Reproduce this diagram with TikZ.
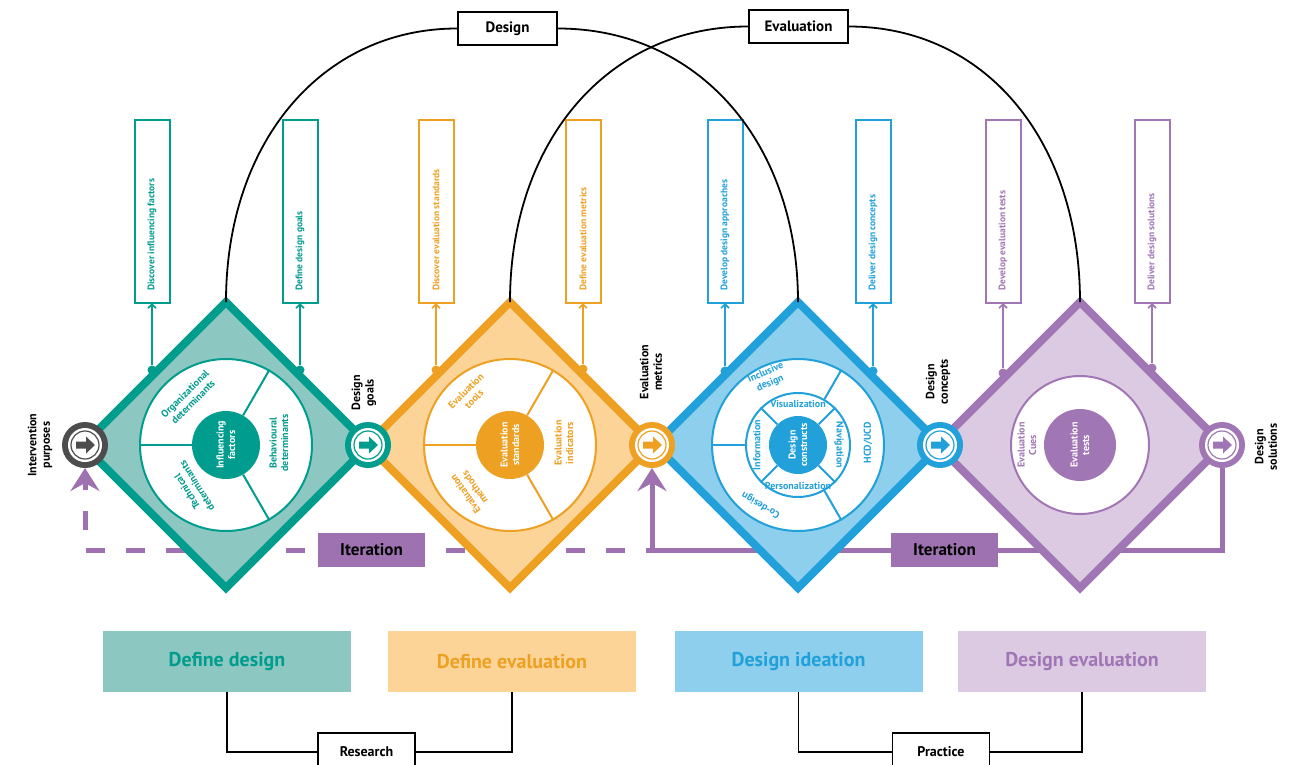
\documentclass[tikz,border=0pt]{standalone}
\usepackage{fontspec}
\setmainfont{PT Sans}
\usetikzlibrary{arrows.meta,calc,shapes.geometric,backgrounds}

\definecolor{tealS}{HTML}{009C8D}
\definecolor{tealL}{HTML}{8CC8C1}
\definecolor{oraS}{HTML}{EEA022}
\definecolor{oraL}{HTML}{FCD497}
\definecolor{bluS}{HTML}{21A0DA}
\definecolor{bluL}{HTML}{8DCFEC}
\definecolor{purS}{HTML}{A176B4}
\definecolor{purL}{HTML}{DCCAE3}
\definecolor{iterC}{HTML}{9E72B1}
\definecolor{portG}{HTML}{4D4D4D}

\tikzset{
  phase/.style 2 args={diamond, draw=#1, fill=#2, line width=8pt,
    minimum width=286pt, minimum height=286pt, inner sep=0pt, outer sep=0pt},
  port/.style={circle, fill=#1, minimum size=46pt, inner sep=0pt, outer sep=0pt,
    path picture={
      \fill[white] (path picture bounding box.center) circle (17pt);
      \draw[#1, line width=1.2pt] (path picture bounding box.center) circle (14pt);
      \fill[#1] ($(path picture bounding box.center)+(-9pt,-3.5pt)$)
        -- ++(10pt,0pt) -- ++(0pt,-5pt) -- ++(9pt,8.5pt) -- ++(-9pt,8.5pt)
        -- ++(0pt,-5pt) -- ++(-10pt,0pt) -- cycle;}},
  stepbox/.style={draw=#1, line width=2pt, fill=white, minimum width=35pt,
    minimum height=183pt, inner sep=0pt, outer sep=0pt},
  boxtxt/.style={text=#1, font=\bfseries\fontsize{9.5}{10}\selectfont,
    rotate=90, anchor=west, inner sep=0pt},
  edgedot/.style={circle, fill=#1, minimum size=9pt, inner sep=0pt},
  link/.style={draw=#1, line width=1.6pt,
    -{Straight Barb[length=4pt,width=8pt,line width=1.6pt]}},
  ring/.style={circle, draw=#1, fill=white, line width=2pt, inner sep=0pt},
  hub/.style={circle, fill=#1, inner sep=0pt},
  sep/.style={draw=#1, line width=2pt},
  intxt/.style={text=#1, font=\bfseries\fontsize{10}{11.5}\selectfont,
    align=center, inner sep=0pt},
  plab/.style={font=\bfseries\fontsize{12}{13.5}\selectfont, align=center,
    rotate=90, inner sep=0pt},
  topbox/.style={draw=black, line width=1.8pt, fill=white, minimum width=99pt,
    minimum height=33pt, inner sep=0pt, font=\bfseries\fontsize{15}{17}\selectfont},
  arcline/.style={draw=black, line width=1.8pt},
  iterline/.style={draw=iterC, line width=5pt,
    -{Stealth[length=23pt,width=29pt,inset=8pt]}},
  iterbox/.style={fill=iterC, minimum width=107pt, minimum height=34pt,
    inner sep=0pt, font=\bfseries\fontsize{17}{19}\selectfont},
  stagebox/.style 2 args={fill=#2, text=#1, minimum width=248pt,
    minimum height=61pt, inner sep=0pt, font=\bfseries\fontsize{20}{22}\selectfont},
  groupbox/.style={draw=black, line width=1.8pt, fill=white, minimum width=97pt,
    minimum height=38pt, inner sep=0pt, font=\bfseries\fontsize{14}{16}\selectfont},
  groupline/.style={draw=black, line width=1.8pt}
}

\begin{document}
\begin{tikzpicture}[x=1pt, y=-1pt]
\useasboundingbox (0,0) rectangle (1294,764);
\clip (0,0) rectangle (1294,764);

% ---- the four phase diamonds
\node[phase={tealS}{tealL}] (dT) at (226,445) {};
\node[phase={oraS}{oraL}]   (dO) at (510,445) {};
\node[phase={bluS}{bluL}]   (dB) at (798,445) {};
\node[phase={purS}{purL}]   (dP) at (1080,445) {};

% ---- teal: influencing factors
\node[ring=tealS, minimum size=172pt] (tO) at (dT) {};
\node[hub=tealS, minimum size=68pt] (tC) at (dT) {};
\foreach \a in {60,180,300} \draw[sep=tealS] (tC.\a) -- (tO.\a);
\node[intxt=white, rotate=90] (tCt) at (dT) {Influencing\\factors};
\node[intxt=tealS, rotate=45] (tA) at ($(dT)+(-37,-47)$) {Organizational\\determinants};
\node[intxt=tealS, rotate=90] (tB) at ($(dT)+(53,-2)$) {Behavioural\\determinants};
\node[intxt=tealS, rotate=122] (tD) at ($(dT)+(-34,44)$) {Technical\\determinants};

% ---- orange: evaluation standards
\node[ring=oraS, minimum size=172pt] (oO) at (dO) {};
\node[hub=oraS, minimum size=68pt] (oC) at (dO) {};
\foreach \a in {60,180,300} \draw[sep=oraS] (oC.\a) -- (oO.\a);
\node[intxt=white, rotate=90] (oCt) at (dO) {Evaluation\\standards};
\node[intxt=oraS, rotate=45] (oA) at ($(dO)+(-40,-50)$) {Evaluation\\tools};
\node[intxt=oraS, rotate=90] (oB) at ($(dO)+(54,-2)$) {Evaluation\\indicators};
\node[intxt=oraS, rotate=125] (oD) at ($(dO)+(-40,46)$) {Evaluation\\methods};

% ---- blue: design constructs
\node[ring=bluS, minimum size=172pt] (bO) at (dB) {};
\node[ring=bluS, minimum size=104pt] (bR) at (dB) {};
\node[hub=bluS, minimum size=58pt] (bC) at (dB) {};
\foreach \a in {60,180,300} \draw[sep=bluS] (bR.\a) -- (bO.\a);
\foreach \a in {45,135,225,315} \draw[sep=bluS] (bC.\a) -- (bR.\a);
\node[intxt=white, rotate=90] (bCt) at (dB) {Design\\constructs};
\node[intxt=bluS] (bV) at ($(dB)+(0,-41)$) {Visualization};
\node[intxt=bluS] (bP) at ($(dB)+(0,41)$) {Personalization};
\node[intxt=bluS, rotate=90] (bI) at ($(dB)+(-41,0)$) {Information};
\node[intxt=bluS, rotate=-90] (bN) at ($(dB)+(41,0)$) {Navigation};
\node[intxt=bluS, rotate=23] (bX) at ($(dB)+(-30,-67)$) {Inclusive\\design};
\node[intxt=bluS, rotate=90] (bH) at ($(dB)+(70,-2)$) {HCD/UCD};
\node[intxt=bluS, rotate=150] (bK) at ($(dB)+(-37,60)$) {Co-design};

% ---- purple: evaluation tests
\node[ring=purS, minimum size=138pt] (uO) at (dP) {};
\node[hub=purS, minimum size=72pt] (uC) at (dP) {};
\node[intxt=white, rotate=90] (uCt) at (dP) {Evaluation\\tests};
\node[intxt=purS, rotate=90] (uA) at ($(dP)+(-53,0)$) {Evaluation\\Cues};

% ---- ports between phases
\node[port=portG] (p0) at (85,445) {};
\node[port=tealS] (p1) at (368,445) {};
\node[port=oraS]  (p2) at (652,445) {};
\node[port=bluS]  (p3) at (940,445) {};
\node[port=purS]  (p4) at (1222,445) {};

\node[plab] (l0) at (40,445) {Intervention\\purposes};
\node[plab] (l1) at (364,393) {Design\\goals};
\node[plab] (l2) at (651,372) {Evaluation\\metrics};
\node[plab] (l3) at (938,382) {Design\\concepts};
\node[plab] (l4) at (1266,447) {Design\\solutions};

% ---- activity boxes above each phase
\node[stepbox=tealS] (s1) at (152,211.5) {};
\node[stepbox=tealS] (s2) at (300,211.5) {};
\node[stepbox=oraS]  (s3) at (436,211.5) {};
\node[stepbox=oraS]  (s4) at (583,211.5) {};
\node[stepbox=bluS]  (s5) at (725,211.5) {};
\node[stepbox=bluS]  (s6) at (873,211.5) {};
\node[stepbox=purS]  (s7) at (1003,211.5) {};
\node[stepbox=purS]  (s8) at (1152,211.5) {};

\node[boxtxt=tealS] (s1t) at ([yshift=12pt]s1.south) {Discover influencing factors};
\node[boxtxt=tealS] (s2t) at ([yshift=12pt]s2.south) {Define design goals};
\node[boxtxt=oraS]  (s3t) at ([yshift=12pt]s3.south) {Discover evaluation standards};
\node[boxtxt=oraS]  (s4t) at ([yshift=12pt]s4.south) {Define evaluation metrics};
\node[boxtxt=bluS]  (s5t) at ([yshift=12pt]s5.south) {Develop design approaches};
\node[boxtxt=bluS]  (s6t) at ([yshift=12pt]s6.south) {Deliver design concepts};
\node[boxtxt=purS]  (s7t) at ([yshift=12pt]s7.south) {Develop evaluation tests};
\node[boxtxt=purS]  (s8t) at ([yshift=12pt]s8.south) {Deliver design solutions};

\node[edgedot=tealS] (e1) at (152,370) {};
\node[edgedot=tealS] (e2) at (300,370) {};
\node[edgedot=oraS]  (e3) at (436,370) {};
\node[edgedot=oraS]  (e4) at (583,369) {};
\node[edgedot=bluS]  (e5) at (725,371) {};
\node[edgedot=bluS]  (e6) at (873,371) {};
\node[edgedot=purS]  (e7) at (1003,373) {};
\node[edgedot=purS]  (e8) at (1152,368) {};

\draw[link=tealS] (e1) -- (s1.south);
\draw[link=tealS] (e2) -- (s2.south);
\draw[link=oraS]  (e3) -- (s3.south);
\draw[link=oraS]  (e4) -- (s4.south);
\draw[link=bluS]  (e5) -- (s5.south);
\draw[link=bluS]  (e6) -- (s6.south);
\draw[link=purS]  (e7) -- (s7.south);
\draw[link=purS]  (e8) -- (s8.south);

% ---- overarching design / evaluation arcs
\node[topbox] (dsg) at (507.5,28.5) {Design};
\node[topbox] (evl) at (798.5,26.5) {Evaluation};
\draw[arcline] (dT.north) .. controls +(0,-160) and +(-135,0) .. (dsg.west);
\draw[arcline] (dsg.east) .. controls +(140,0) and +(0,-160) .. (dB.north);
\draw[arcline] (dO.north) .. controls +(0,-161) and +(-140,0) .. (evl.west);
\draw[arcline] (evl.east) .. controls +(137,0) and +(0,-161) .. (dP.north);

% ---- iteration loops, behind the diamonds
\coordinate (jn) at (652,550);
\begin{scope}[on background layer]
  \draw[iterline] (p4.south) |- (jn) -- (p2.south);
  \draw[iterline, dash pattern=on 19pt off 21pt, dash phase=13pt] (jn) -| (p0.south);
\end{scope}
\node[iterbox] (it1) at (371.5,550) {Iteration};
\node[iterbox] (it2) at (944.5,550) {Iteration};

% ---- stage labels and their groups
\node[stagebox={tealS}{tealL}] (g1) at (227,661.5) {Define design};
\node[stagebox={oraS}{oraL}]   (g2) at (512,661.5) {Define evaluation};
\node[stagebox={bluS}{bluL}]   (g3) at (798.5,661.5) {Design ideation};
\node[stagebox={purS}{purL}]   (g4) at (1082,661.5) {Design evaluation};

\node[groupbox] (res) at (366.5,752) {Research};
\node[groupbox] (pra) at (941,752) {Practice};
\draw[groupline] (g1.south) |- (res.west);
\draw[groupline] (g2.south) |- (res.east);
\draw[groupline] (g3.south) |- (pra.west);
\draw[groupline] (g4.south) |- (pra.east);
\end{tikzpicture}
\end{document}
